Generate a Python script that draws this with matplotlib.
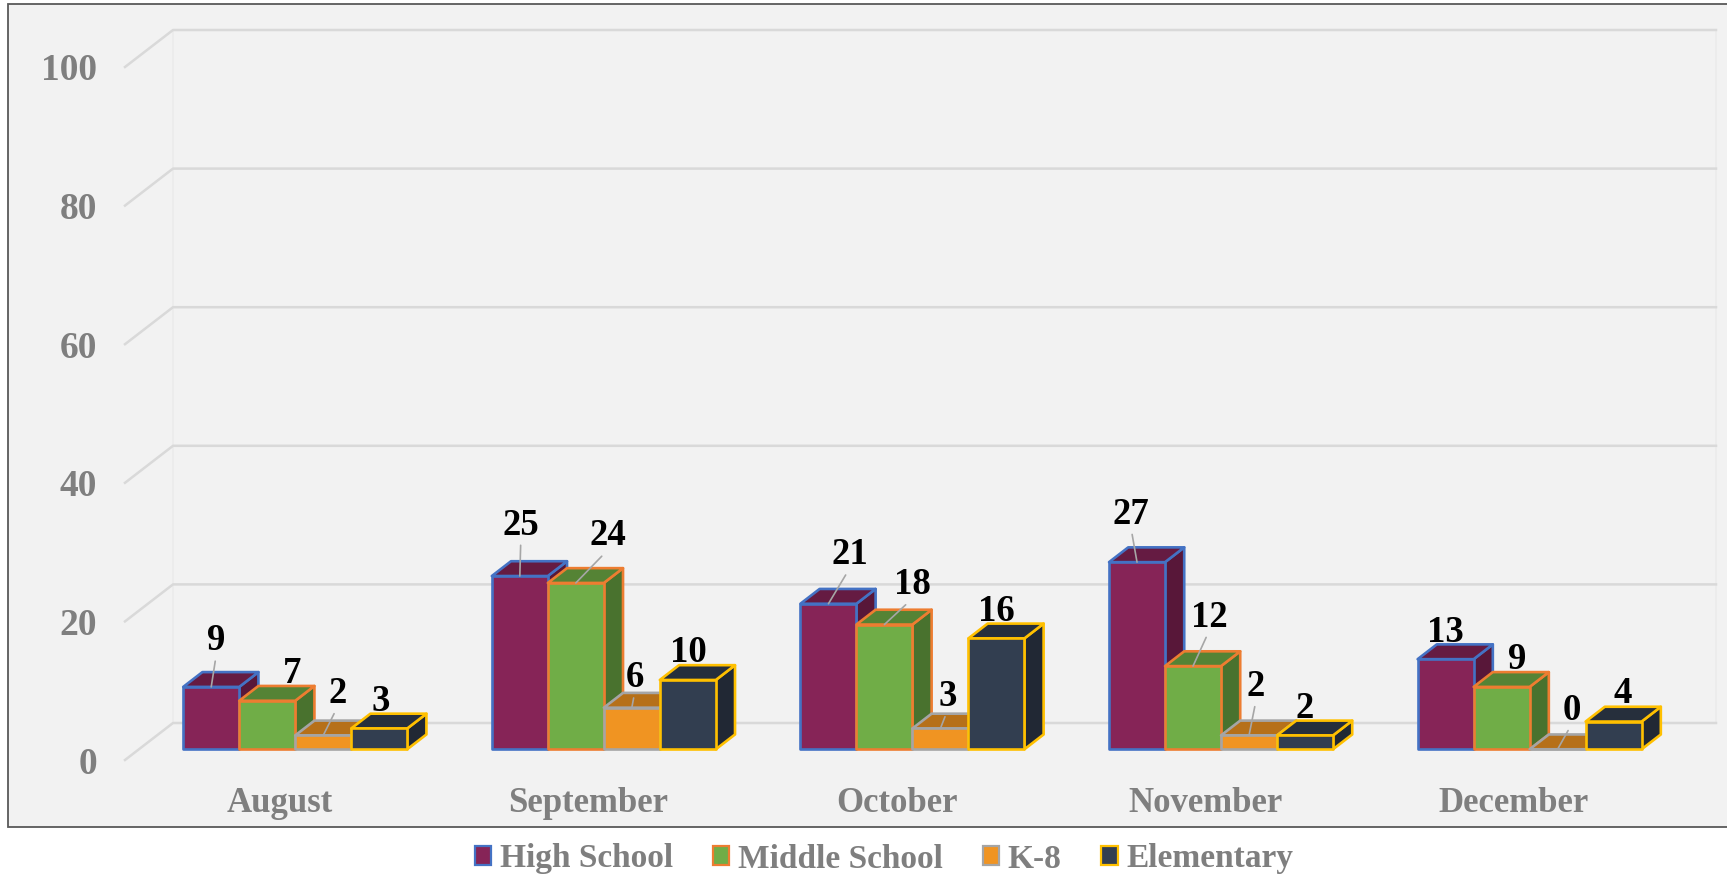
import matplotlib.pyplot as plt
from matplotlib.patches import Polygon, Rectangle, Patch

months = ["August", "September", "October", "November", "December"]
high_school = [9, 25, 21, 27, 13]
middle_school = [7, 24, 18, 12, 9]
k8 = [2, 6, 3, 2, 0]
elementary = [3, 10, 16, 2, 4]
yticks = [0, 20, 40, 60, 80, 100]

series = [("High School", high_school, "#862457", "#4472c4"),
          ("Middle School", middle_school, "#70ad47", "#ed7d31"),
          ("K-8", k8, "#f09422", "#a5a5a5"),
          ("Elementary", elementary, "#323e50", "#ffc000")]

# label offsets from the bar's front top centre, in pixels (series by month)
label_dx = [[5, 1, 21, -6, 0], [25, 32, 28, 16, 16], [14, 3, 7, 7, 14], [1, 1, 0, 0, 9]]
label_dy = [[46, 51, 49, 48, 27], [27, 47, 40, 49, 27], [42, 30, 32, 49, 39], [27, 27, 27, 27, 28]]
leader = [[1, 1, 1, 1, 0], [0, 1, 1, 1, 0], [1, 1, 1, 1, 1], [0, 0, 0, 0, 0]]

W, H = 1727, 875
GRAY = "#7f7f7f"
GRID = "#d9d9d9"
SERIF = "Liberation Serif"

fig = plt.figure(figsize=(W / 100, H / 100), dpi=100, facecolor="white")
fig.add_artist(Rectangle((7.5 / W, 1 - 827 / H), 1730 / W, 823.5 / H, transform=fig.transFigure,
                         facecolor="#f2f2f2", edgecolor="#595959", linewidth=1.3, zorder=-1))

# axes = front plane of the fake 3D box
ax = fig.add_axes([125 / W, 1 - 760 / H, 1543 / W, 693 / H])
ax.patch.set_visible(False)
ax.set_xlim(-0.5, 4.5)
ax.set_ylim(0, 100)
for s in ax.spines.values():
    s.set_visible(False)

# depth of the box in data units, full depth = 48 px across, 37 px up
DX = 48 / 308.6
DY = 37 / 6.93
BAR_W = 56 / 308.6
BAR_SHIFT = 2 / 308.6
D_FRONT = 0.29
D_BACK = 0.69


def proj(x, v, d):
    return (x + d * DX, v + d * DY)


# walls and grid
for xw in (-0.5, 4.5):
    p = [proj(xw, 0, 1), proj(xw, 100, 1)]
    ax.plot(*zip(*p), color="#ebebeb", lw=1.2, clip_on=False, zorder=1)
for v in yticks:
    p = [proj(-0.5, v, 0), proj(-0.5, v, 1), proj(4.5, v, 1)]
    ax.plot(*zip(*p), color=GRID, lw=1.8, clip_on=False, zorder=2)


def shade(col, f):
    r, g, b = [int(col[i:i + 2], 16) for i in (1, 3, 5)]
    return "#%02x%02x%02x" % (int(r * f), int(g * f), int(b * f))


z = 3
for i, (name, vals, col, edge) in enumerate(series):
    for j, v in enumerate(vals):
        x0 = j + (i - 2) * BAR_W + BAR_SHIFT
        x1 = x0 + BAR_W
        front = [proj(x0, 0, D_FRONT), proj(x1, 0, D_FRONT), proj(x1, v, D_FRONT), proj(x0, v, D_FRONT)]
        top = [proj(x0, v, D_FRONT), proj(x1, v, D_FRONT), proj(x1, v, D_BACK), proj(x0, v, D_BACK)]
        side = [proj(x1, 0, D_FRONT), proj(x1, 0, D_BACK), proj(x1, v, D_BACK), proj(x1, v, D_FRONT)]
        # bars stack left to right, each one covers the side of the previous
        ax.add_patch(Polygon(side, closed=True, facecolor=shade(col, 0.66), edgecolor=edge,
                             lw=1.9, joinstyle="round", clip_on=False, zorder=z + j * 10 + i))
        ax.add_patch(Polygon(top, closed=True, facecolor=shade(col, 0.76), edgecolor=edge,
                             lw=1.9, joinstyle="round", clip_on=False, zorder=z + j * 10 + i))
        ax.add_patch(Polygon(front, closed=True, facecolor=col, edgecolor=edge,
                             lw=1.9, joinstyle="round", clip_on=False, zorder=z + j * 10 + i))

for i, (name, vals, col, edge) in enumerate(series):
    for j, v in enumerate(vals):
        xc, yc = proj(j + (i - 1.5) * BAR_W + BAR_SHIFT, v, D_FRONT)
        arrow = None
        if leader[i][j]:
            arrow = dict(arrowstyle="-", color="#a6a6a6", lw=1.2, shrinkA=0, shrinkB=0, relpos=(0.5, 0.1))
        ax.annotate(str(v), xy=(xc, yc), xytext=(label_dx[i][j], label_dy[i][j]),
                    textcoords="offset pixels", ha="center", va="center", family=SERIF,
                    fontweight="bold", fontsize=26.5, color="black", arrowprops=arrow,
                    annotation_clip=False, zorder=100)

ax.set_xticks(range(len(months)))
ax.set_xticklabels(months, family=SERIF, fontweight="bold", fontsize=25, color=GRAY)
ax.set_yticks(yticks)
ax.set_yticklabels(yticks, family=SERIF, fontweight="bold", fontsize=27, color=GRAY)
ax.tick_params(axis="x", length=0, pad=19.5)
ax.tick_params(axis="y", length=0, pad=20)

handles = [Patch(facecolor=c, edgecolor=e, lw=1.6, label=n) for n, _, c, e in series]
fig.legend(handles=handles, loc="center", bbox_to_anchor=(884 / W, 1 - 859 / H), ncol=4, frameon=False,
           prop={"family": SERIF, "weight": "bold", "size": 24}, labelcolor=GRAY,
           handlelength=0.5, handleheight=0.5, handletextpad=0.25, columnspacing=1.2)

fig.savefig("out.png", dpi=100)
